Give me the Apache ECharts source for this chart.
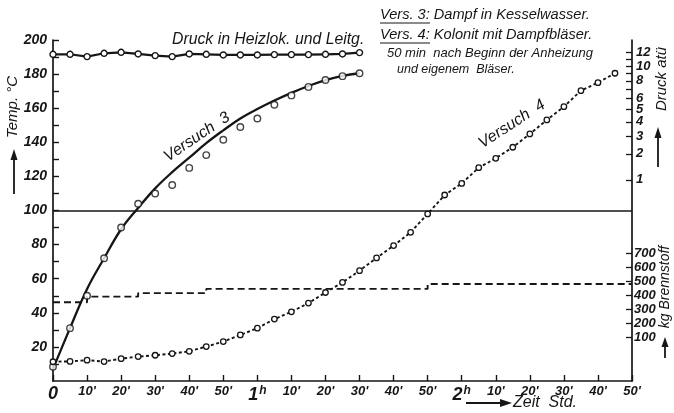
<!DOCTYPE html>
<html>
<head>
<meta charset="utf-8">
<script src="https://cdn.jsdelivr.net/npm/echarts@6/dist/echarts.min.js"></script>
<style>
  html, body { margin: 0; padding: 0; background: #fff; }
  #chart { width: 674px; height: 413px; }
</style>
</head>
<body>
<div id="chart"></div>
<script>
// ---- time axis: minutes after start of heating, 0 … 2h 50'
const TIME_TICK_LABELS = ["0", "10'", "20'", "30'", "40'", "50'", "1h", "10'", "20'", "30'", "40'", "50'",
                          "2h", "10'", "20'", "30'", "40'", "50'"];

// ---- Versuch 3 (Dampf in Kesselwasser): measured water temperature, °C
const V3_TIMES = [0, 5, 10, 15, 20, 25, 30, 35, 40, 45, 50, 55, 60, 65, 70, 75, 80, 85, 90];
const V3_TEMPS = [8.4, 31, 50, 72, 90, 104, 110, 115, 125, 132.5, 141.5, 149, 154, 162, 167.5, 172.5, 176.5, 178.8, 180.5];

// ---- Versuch 3: faired curve through the measurements, °C
const V3_CURVE_TIMES = [0, 5, 10, 15, 20, 25, 30, 35, 40, 45, 50, 55, 60, 65, 70, 75, 80, 85, 90];
const V3_CURVE_TEMPS = [7, 31, 54, 72, 89, 101.5, 113, 122.5, 131, 139.5, 147, 154, 159.5, 164.5, 169, 173, 176.5, 179, 180.5];

// ---- Versuch 4 (Kolonit mit Dampfbläser): measured temperature, °C
const V4_TIMES = [0, 5, 10, 15, 20, 25, 30, 35, 40, 45, 50, 55, 60, 65, 70, 75, 80, 85, 90, 95,
                  100, 105, 110, 115, 120, 125, 130, 135, 140, 145, 150, 155, 160, 165];
const V4_TEMPS = [11.3, 11.5, 12.2, 11.4, 13.1, 14.3, 15.1, 16.1, 17.4, 20.2, 23.1, 27, 31, 36.3, 40.6, 45.7, 51.9, 57.8, 64.7, 72.2,
                  79.4, 87.2, 98, 109.1, 115.9, 125.1, 130.6, 137.1, 144.9, 153.1, 160.9, 170.3, 175, 180.5];

// ---- Druck in Heizlok. und Leitung, atü
const PRESSURE_TIMES = [0, 5, 10, 15, 20, 25, 30, 35, 40, 45, 50, 55, 60, 65, 70, 75, 80, 85, 90];
const PRESSURE_ATU = [11.75, 11.75, 11.4, 11.9, 12.05, 11.8, 11.55, 11.4, 11.8, 11.75, 11.65, 11.65, 11.65, 11.7, 11.7, 11.7, 11.75, 11.8, 12.0];

// ---- Brennstoff (cumulative fuel), kg; value holds until the next time
const FUEL_TIMES = [0, 10, 25, 45, 110, 170];
const FUEL_KG = [350, 390, 415, 445, 480, 480];

// ---- pressure scale: each atü mark sits at its steam temperature on the °C scale
const PRESSURE_SCALE_ATU = [1, 2, 3, 4, 5, 6, 7, 8, 9, 10, 11, 12];
const PRESSURE_SCALE_TEMP = [118, 133.2, 143.7, 152, 159.5, 166, 171.2, 176, 180.4, 184.6, 188.7, 192.6];
const PRESSURE_LABELS = [1, 2, 3, 4, 5, 6, 8, 10, 12];

// ---- tick labels of the other scales
const TEMP_TICKS = [10, 20, 30, 40, 50, 60, 70, 80, 90, 100, 110, 120, 130, 140, 150, 160, 170, 180, 190, 200];
const TEMP_LABELS = [20, 40, 60, 80, 100, 120, 140, 160, 180, 200];
const FUEL_LABELS = [100, 200, 300, 400, 500, 600, 700];
const REFERENCE_TEMP = 100;

// -------------------------------------------------------------------------
const INK = '#161616';
const FONT = "'Liberation Sans', Arial, 'DejaVu Sans', sans-serif";

function atuToScale(p) {
  const a = PRESSURE_SCALE_ATU, t = PRESSURE_SCALE_TEMP;
  let i = 0;
  while (i < a.length - 2 && p > a[i + 1]) i++;
  return t[i] + (p - a[i]) * (t[i + 1] - t[i]) / (a[i + 1] - a[i]);
}
const pressureLabelAt = new Map(PRESSURE_LABELS.map(p => [atuToScale(p).toFixed(3), String(p)]));

const zip = (xs, ys) => xs.map((x, i) => [x, ys[i]]);

// fuel scale shares the plot height: 100 kg and 700 kg marks placed low on the right edge
const FUEL_AXIS_MIN = -209;
const FUEL_AXIS_MAX = 2212;

const tickLabelStyle = {
  color: INK, fontFamily: FONT, fontStyle: 'italic', fontWeight: 'bold', fontSize: 14
};

const chart = echarts.init(document.getElementById('chart'));

const option = {
  animation: false,
  backgroundColor: '#fff',
  grid: { left: 53, right: 42, top: 40, bottom: 32 },
  xAxis: {
    type: 'value', min: 0, max: 170, interval: 10,
    axisLine: { lineStyle: { color: INK, width: 1.7 } },
    axisTick: { inside: true, length: 6, lineStyle: { color: INK, width: 1.4 } },
    splitLine: { show: false },
    axisLabel: Object.assign({}, tickLabelStyle, {
      fontSize: 13, margin: 4,
      formatter: function (v) {
        const s = TIME_TICK_LABELS[Math.round(v / 10)] || '';
        if (s === '0') return '{big|0}';
        if (s.endsWith('h')) return '{big|' + s.slice(0, -1) + '}{sup|h}';
        return s;
      },
      rich: {
        big: { fontFamily: FONT, fontStyle: 'italic', fontWeight: 'bold', fontSize: 18, color: INK },
        sup: { fontFamily: FONT, fontStyle: 'italic', fontWeight: 'bold', fontSize: 12, color: INK, verticalAlign: 'top', padding: [0, 0, 8, 1] }
      }
    })
  },
  yAxis: [
    { // temperature
      type: 'value', min: 0, max: 200, position: 'left',
      axisLine: { show: true, lineStyle: { color: INK, width: 1.7 } },
      axisTick: { show: true, inside: true, length: 6, customValues: TEMP_TICKS, lineStyle: { color: INK, width: 1.4 } },
      splitLine: { show: false },
      axisLabel: Object.assign({}, tickLabelStyle, { margin: 6, customValues: TEMP_LABELS })
    },
    { // pressure (steam-temperature spacing)
      type: 'value', min: 0, max: 200, position: 'right',
      axisLine: { show: true, lineStyle: { color: INK, width: 1.7 } },
      axisTick: { show: true, inside: true, length: 6, customValues: PRESSURE_SCALE_ATU.map(atuToScale), lineStyle: { color: INK, width: 1.3 } },
      splitLine: { show: false },
      axisLabel: Object.assign({}, tickLabelStyle, {
        fontSize: 13, margin: 4, showMinLabel: true, showMaxLabel: true,
        customValues: PRESSURE_LABELS.map(atuToScale),
        formatter: v => pressureLabelAt.get(v.toFixed(3)) || ''
      })
    },
    { // fuel
      type: 'value', min: FUEL_AXIS_MIN, max: FUEL_AXIS_MAX, position: 'right',
      axisLine: { show: false },
      axisTick: { show: true, inside: true, length: 6, customValues: FUEL_LABELS, lineStyle: { color: INK, width: 1.3 } },
      splitLine: { show: false },
      axisLabel: Object.assign({}, tickLabelStyle, {
        fontSize: 13, margin: 2, showMinLabel: true, showMaxLabel: true, customValues: FUEL_LABELS
      })
    }
  ],
  series: [
    {
      name: 'Druck in Heizlok. und Leitg.',
      type: 'line', yAxisIndex: 1,
      data: PRESSURE_TIMES.map((t, i) => [t, atuToScale(PRESSURE_ATU[i])]),
      lineStyle: { color: INK, width: 2.2 },
      symbol: 'circle', symbolSize: 6, showAllSymbol: true,
      itemStyle: { color: '#fff', borderColor: INK, borderWidth: 1.4 },
      z: 3
    },
    {
      name: 'Versuch 3',
      type: 'line', yAxisIndex: 0, smooth: 0.4,
      data: zip(V3_CURVE_TIMES, V3_CURVE_TEMPS),
      showSymbol: false, symbol: 'none',
      lineStyle: { color: INK, width: 2.3 },
      markLine: {
        silent: true, symbol: ['none', 'none'], label: { show: false },
        lineStyle: { color: INK, width: 1.6, type: 'solid' },
        data: [{ yAxis: REFERENCE_TEMP }]
      },
      z: 2
    },
    {
      name: 'Versuch 3 Messwerte',
      type: 'scatter', yAxisIndex: 0,
      data: zip(V3_TIMES, V3_TEMPS),
      symbol: 'circle', symbolSize: 6.5,
      itemStyle: { color: '#fff', borderColor: INK, borderWidth: 1.4 },
      z: 4
    },
    {
      name: 'Versuch 4',
      type: 'line', yAxisIndex: 0,
      data: zip(V4_TIMES, V4_TEMPS),
      lineStyle: { color: INK, width: 1.9, type: [3, 2.5] },
      symbol: 'circle', symbolSize: 5.5, showAllSymbol: true,
      itemStyle: { color: '#fff', borderColor: INK, borderWidth: 1.3 },
      z: 4
    },
    {
      name: 'kg Brennstoff',
      type: 'line', yAxisIndex: 2, step: 'end',
      data: zip(FUEL_TIMES, FUEL_KG),
      showSymbol: false, symbol: 'none',
      lineStyle: { color: INK, width: 1.9, type: [7, 4] },
      z: 2
    }
  ],
  graphic: [
    // axis titles
    { type: 'text', x: 13, y: 107, rotation: Math.PI / 2,
      style: { text: 'Temp. °C', font: 'italic 15px ' + FONT, fill: INK, align: 'center', verticalAlign: 'middle' } },
    { type: 'line', shape: { x1: 14, y1: 194, x2: 14, y2: 157 }, style: { stroke: INK, lineWidth: 1.8 } },
    { type: 'polygon', shape: { points: [[14, 149], [10.5, 160], [17.5, 160]] }, style: { fill: INK } },

    { type: 'text', x: 662, y: 79, rotation: Math.PI / 2,
      style: { text: 'Druck atü', font: 'italic 15px ' + FONT, fill: INK, align: 'center', verticalAlign: 'middle' } },
    { type: 'line', shape: { x1: 658, y1: 167, x2: 658, y2: 135 }, style: { stroke: INK, lineWidth: 1.8 } },
    { type: 'polygon', shape: { points: [[658, 127], [654.5, 138], [661.5, 138]] }, style: { fill: INK } },

    { type: 'text', x: 665, y: 287, rotation: Math.PI / 2,
      style: { text: 'kg Brennstoff', font: 'italic 14px ' + FONT, fill: INK, align: 'center', verticalAlign: 'middle' } },
    { type: 'line', shape: { x1: 665, y1: 358, x2: 665, y2: 345 }, style: { stroke: INK, lineWidth: 1.8 } },
    { type: 'polygon', shape: { points: [[665, 337], [661.5, 347], [668.5, 347]] }, style: { fill: INK } },

    { type: 'line', shape: { x1: 466, y1: 403, x2: 502, y2: 403 }, style: { stroke: INK, lineWidth: 1.8 } },
    { type: 'polygon', shape: { points: [[512, 403], [500, 399], [500, 407]] }, style: { fill: INK } },
    { type: 'text', x: 513, y: 403,
      style: { text: 'Zeit  Std.', font: 'italic 16px ' + FONT, fill: INK, align: 'left', verticalAlign: 'middle' } },

    // curve names
    { type: 'text', x: 172, y: 40,
      style: { text: 'Druck in Heizlok. und Leitg.', font: 'italic 15.8px ' + FONT, fill: INK, align: 'left', verticalAlign: 'middle' } },
    { type: 'text', x: 197, y: 137, rotation: 34 * Math.PI / 180,
      style: { text: 'Versuch  3', font: 'italic 16px ' + FONT, fill: INK, align: 'center', verticalAlign: 'middle' } },
    { type: 'text', x: 512, y: 124, rotation: 33 * Math.PI / 180,
      style: { text: 'Versuch  4', font: 'italic 16px ' + FONT, fill: INK, align: 'center', verticalAlign: 'middle' } },

    // explanation block
    { type: 'text', x: 380, y: 15,
      style: { text: 'Vers. 3: Dampf in Kesselwasser.', font: 'italic 14.6px ' + FONT, fill: INK, align: 'left', verticalAlign: 'middle' } },
    { type: 'line', shape: { x1: 380, y1: 23, x2: 430, y2: 23 }, style: { stroke: INK, lineWidth: 1 } },
    { type: 'text', x: 380, y: 35,
      style: { text: 'Vers. 4: Kolonit mit Dampfbläser.', font: 'italic 14.6px ' + FONT, fill: INK, align: 'left', verticalAlign: 'middle' } },
    { type: 'line', shape: { x1: 380, y1: 43, x2: 430, y2: 43 }, style: { stroke: INK, lineWidth: 1 } },
    { type: 'text', x: 387, y: 53,
      style: { text: '50 min  nach Beginn der Anheizung', font: 'italic 13px ' + FONT, fill: INK, align: 'left', verticalAlign: 'middle' } },
    { type: 'text', x: 397, y: 70,
      style: { text: 'und eigenem  Bläser.', font: 'italic 12.5px ' + FONT, fill: INK, align: 'left', verticalAlign: 'middle' } }
  ]
};

chart.setOption(option);
</script>
</body>
</html>
